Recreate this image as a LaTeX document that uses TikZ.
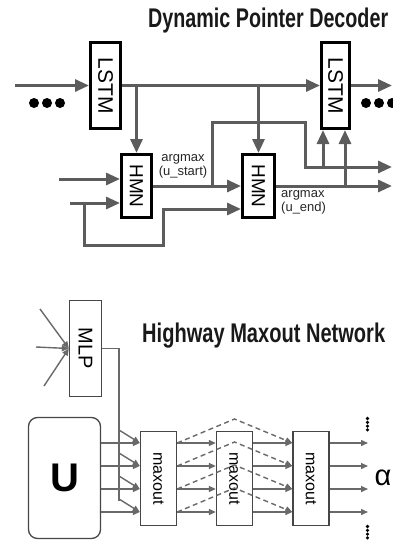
\documentclass[tikz,border=0pt]{standalone}
\usepackage{fontspec}
\setmainfont{Liberation Sans}
\usetikzlibrary{arrows.meta,calc}
\definecolor{lineg}{RGB}{92,92,92}
\definecolor{blineg}{RGB}{105,105,105}
\definecolor{boxg}{RGB}{70,70,70}
\definecolor{titlec}{RGB}{25,25,25}
\begin{document}
\begin{tikzpicture}[x=1pt,y=-1pt,
  tarr/.style={line width=3pt, draw=lineg, -{Triangle[length=14pt,width=12pt]}},
  tbox/.style={draw=black, line width=3pt, inner sep=0pt, fill=white},
  bbox/.style={draw=boxg, line width=1.3pt, inner sep=0pt, fill=white},
  barr/.style={line width=1.4pt, draw=blineg, -{Triangle[length=7pt,width=6pt]}},
  bline/.style={line width=1.4pt, draw=blineg},
  lbl/.style={inner sep=0pt, text=black!85, font=\fontsize{13}{14}\selectfont},
  ttl/.style={inner sep=0pt, text=titlec, anchor=base west}
]
\useasboundingbox (0,0) rectangle (393,542);

% ---------- titles ----------
\node[ttl] (t1) at (148,27) {\resizebox{240pt}{\height}{\fontsize{27}{27}\selectfont\bfseries Dynamic Pointer Decoder}};
\node[ttl] (t2) at (142,342) {\resizebox{243pt}{\height}{\fontsize{27}{27}\selectfont\bfseries Highway Maxout Network}};

% ---------- top: decoder ----------
\node[tbox, minimum width=30pt, minimum height=86pt] (L1) at (105.5,85.5) {\rotatebox{-90}{\fontsize{21}{21}\selectfont LSTM}};
\node[tbox, minimum width=28pt, minimum height=86pt] (L2) at (335.5,85.5) {\rotatebox{-90}{\fontsize{21}{21}\selectfont LSTM}};
\node[tbox, minimum width=30pt, minimum height=63pt] (H1) at (136.5,186) {\rotatebox{-90}{\fontsize{19}{19}\selectfont HMN}};
\node[tbox, minimum width=32pt, minimum height=63pt] (H2) at (258.5,186) {\rotatebox{-90}{\fontsize{19}{19}\selectfont HMN}};

\coordinate (lin) at (15,85.5);
\coordinate (lout) at (392,85.5);
\draw[tarr] (lin) -- (L1.west);
\draw[tarr] (L1.east) -- (L2.west);
\draw[tarr] (L2.east) -- (lout);
\draw[tarr] (L1.east -| H1.north) -- (H1.north);
\draw[tarr] (L1.east -| H2.north) -- (H2.north);

\coordinate (a1) at (59,179);
\coordinate (a2) at (70,203);
\draw[tarr] (a1) -- (a1 -| H1.west);
\draw[tarr] (a2) -- (a2 -| H1.west);
\coordinate (f0) at (84,203);
\coordinate (f1) at (163,209);
\draw[tarr] (f0) -- (84,245) -- (163,245) -- (f1) -- (f1 -| H2.west);

\draw[tarr] (H1.east) -- (H2.west);
\coordinate (s1) at (212,186);
\coordinate (o1) at (392,167);
\draw[tarr] (s1) -- (212,122) -- (305,122) -- (305,167) -- (o1);
\coordinate (u1) at (323,167);
\coordinate (u2) at (345,186);
\draw[tarr] (u1) -- (u1 |- L2.south);
\draw[tarr] (u2) -- (u2 |- L2.south);
\coordinate (o2) at (392,186);
\draw[tarr] (H2.east) -- (o2);

\node[lbl, align=center] (lab1) at (183,166) {argmax\\(u\_start)};
\node[lbl, align=left, anchor=west] (lab2) at (281,202.5) {argmax\\(u\_end)};

\foreach \x in {34,47,60} \fill[black] (\x,103) circle (5);
\foreach \x in {366,379,392} \fill[black] (\x,103) circle (5);

% ---------- bottom: highway maxout network ----------
\node[bbox, minimum width=32pt, minimum height=96pt] (M) at (85.5,348.5) {\rotatebox{-90}{\fontsize{20}{20}\selectfont MLP}};
\coordinate (m1) at (40,309);
\coordinate (m2) at (36,347);
\coordinate (m3) at (44,386);
\draw[barr] (m1) -- (M.west);
\draw[barr] (m2) -- (M.west);
\draw[barr] (m3) -- (M.west);

\node[draw=boxg, line width=1.3pt, rounded corners=9pt, minimum width=72pt, minimum height=121pt, inner sep=0pt] (U) at (64.5,478) {\fontsize{40}{40}\selectfont\bfseries U};

\node[bbox, minimum width=36pt, minimum height=94pt] (X1) at (158.5,478.5) {\rotatebox{-90}{\fontsize{16}{16}\selectfont maxout}};
\node[bbox, minimum width=36pt, minimum height=94pt] (X2) at (234.5,478.5) {\rotatebox{-90}{\fontsize{16}{16}\selectfont maxout}};
\node[bbox, minimum width=36pt, minimum height=94pt] (X3) at (311,478.5) {\rotatebox{-90}{\fontsize{16}{16}\selectfont maxout}};

\coordinate (mv) at (119,348.5);
\draw[bline] (M.east) -- (mv) -- (119,501);

\foreach \y [count=\i] in {443,466,489,512} {
  \coordinate (r\i) at (0,\y);
  \draw[barr] (119,\y-13) -- (X1.west |- r\i);
  \draw[barr] (U.east |- r\i) -- (X1.west |- r\i);
  \draw[barr] (X1.east |- r\i) -- (X2.west |- r\i);
  \draw[barr] (X2.east |- r\i) -- (X3.west |- r\i);
  \draw[barr] (X3.east |- r\i) -- (368,\y);
  \draw[barr, dash pattern=on 5pt off 3.5pt] (X1.east |- r\i) -- ($(X2.center |- r\i)+(0,-24)$) -- (X3.west |- r\i);
}

\node[inner sep=0pt] (alpha) at (383,478) {\fontsize{29}{29}\selectfont α};
\foreach \yy in {418.5,422.3,426.1,429.9,526.5,530.3,534.1,537.9} \fill[black] (367.5,\yy) circle (1.8);
\end{tikzpicture}
\end{document}
